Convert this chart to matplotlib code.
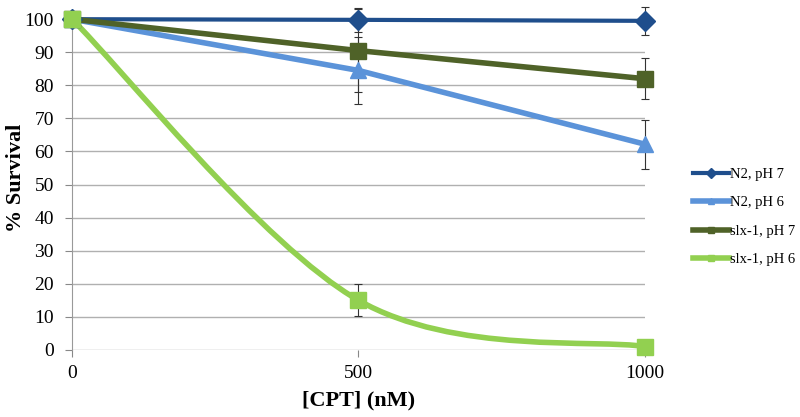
import numpy as np
import matplotlib as mpl
import matplotlib.pyplot as plt
from matplotlib.path import Path
from matplotlib.patches import PathPatch
from matplotlib.lines import Line2D

mpl.rcParams['font.family'] = ['Liberation Serif', 'DejaVu Serif']

conc = [0, 500, 1000]
series_names = ['N2, pH 7', 'N2, pH 6', 'slx-1, pH 7', 'slx-1, pH 6']
n2_ph7 = [100, 99.8, 99.5]
n2_ph7_err = [0, 3.6, 4.3]
n2_ph6 = [100, 84.5, 62.2]
n2_ph6_err = [0, 10, 7.4]
slx_ph7 = [100, 90.5, 82]
slx_ph7_err = [0, 12.5, 6.2]
slx_ph6 = [100, 15, 1]
slx_ph6_err = [0, 4.8, 0]

colors = ['#1f4e8c', '#5b93d9', '#4f6228', '#92d050']
markers = ['D', '^', 's', 's']
msizes = [10, 12, 12, 12]
lwidths = [3, 4, 4, 4]


def smooth_path(x, y):
    # Excel-style smoothed line (cubic Bezier through the points)
    pts = np.column_stack([x, y]).astype(float)
    n = len(pts)
    verts, codes = [pts[0]], [Path.MOVETO]
    for i in range(n - 1):
        p_prev = pts[max(i - 1, 0)]
        p_next2 = pts[min(i + 2, n - 1)]
        c1 = pts[i] + (pts[i + 1] - p_prev) / 6
        c2 = pts[i + 1] - (p_next2 - pts[i]) / 6
        verts += [c1, c2, pts[i + 1]]
        codes += [Path.CURVE4] * 3
    return Path(verts, codes)


fig = plt.figure(figsize=(8, 4.17), dpi=100)
ax = fig.add_axes([0.09, 0.161, 0.716, 0.793])

data = [(n2_ph7, n2_ph7_err), (n2_ph6, n2_ph6_err),
        (slx_ph7, slx_ph7_err), (slx_ph6, slx_ph6_err)]
handles = []
for i, (vals, errs) in enumerate(data):
    ax.errorbar(conc, vals, yerr=errs, fmt='none', ecolor='#333333',
                elinewidth=0.8, capsize=3, capthick=0.8, zorder=2, clip_on=False)
    if i == 3:
        patch = PathPatch(smooth_path(conc, vals), facecolor='none',
                          edgecolor=colors[i], lw=lwidths[i], zorder=3,
                          capstyle='round', clip_on=False)
        ax.add_patch(patch)
    else:
        ax.plot(conc, vals, color=colors[i], lw=lwidths[i], zorder=3,
                solid_capstyle='round', clip_on=False)
    ax.plot(conc, vals, linestyle='none', marker=markers[i], ms=msizes[i],
            color=colors[i], zorder=4, clip_on=False)
    handles.append(Line2D([], [], color=colors[i], lw=lwidths[i],
                          marker=markers[i], ms=5, label=series_names[i]))

ax.set_xlim(0, 1000)
ax.set_ylim(0, 100)
ax.set_xticks(conc)
ax.set_yticks(np.arange(0, 101, 10))
ax.tick_params(axis='both', labelsize=14, colors='#888888', labelcolor='black',
               length=5, width=0.8)
ax.tick_params(axis='x', pad=6)
ax.tick_params(axis='y', pad=8)
ax.yaxis.grid(True, color='#b0b0b0', linewidth=1)
ax.set_axisbelow(True)
for side in ['top', 'right', 'bottom']:
    ax.spines[side].set_visible(False)
ax.spines['left'].set_color('#999999')

ax.set_ylabel('% Survival', fontsize=16, fontweight='bold')
ax.yaxis.set_label_coords(-0.08, 0.52)
ax.set_xlabel('[CPT] (nM)', fontsize=16, fontweight='bold', labelpad=6)

fig.legend(handles=handles, loc='center left', bbox_to_anchor=(0.857, 0.48),
           frameon=False, fontsize=10.5, handlelength=2.5, handletextpad=0.05,
           labelspacing=1.05, borderpad=0)

fig.savefig('out.png', dpi=100)
